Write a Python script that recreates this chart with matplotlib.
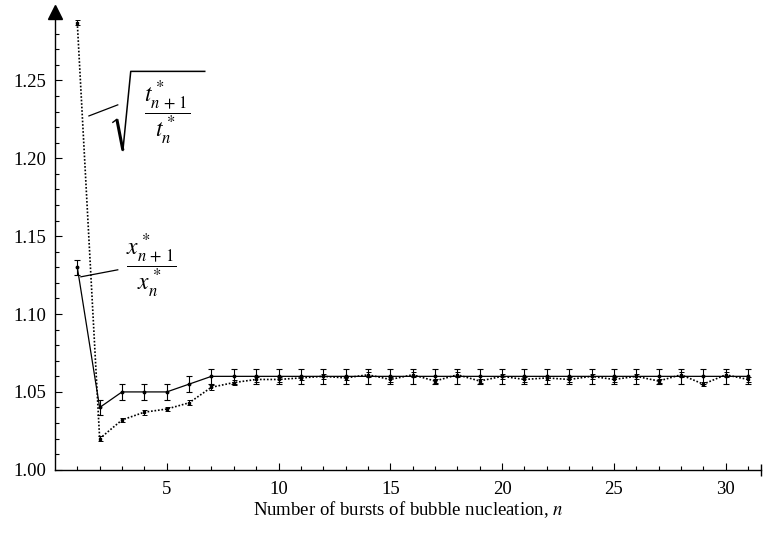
import numpy as np
import matplotlib
matplotlib.use("Agg")
import matplotlib.pyplot as plt

plt.rcParams['font.family'] = ['Liberation Serif', 'DejaVu Serif']
plt.rcParams['mathtext.fontset'] = 'stix'

# -------------------------------------------------------------
#                   DATA
# -------------------------------------------------------------
n = list(range(1, 32))

# x*_{n+1} / x*_n  (solid, with error bars)
x_ratio = [1.130, 1.040, 1.050, 1.050, 1.050, 1.055, 1.060, 1.060, 1.060, 1.060,
           1.060, 1.060, 1.060, 1.060, 1.060, 1.060, 1.060, 1.060, 1.060, 1.060,
           1.060, 1.060, 1.060, 1.060, 1.060, 1.060, 1.060, 1.060, 1.060, 1.060,
           1.060]
x_err = [0.005] * 31

# sqrt(t*_{n+1} / t*_n)  (dotted)
t_ratio = [1.287, 1.020, 1.032, 1.037, 1.039, 1.043, 1.053, 1.056, 1.058, 1.058,
           1.059, 1.060, 1.059, 1.061, 1.058, 1.061, 1.057, 1.061, 1.057, 1.060,
           1.058, 1.059, 1.058, 1.060, 1.058, 1.060, 1.057, 1.061, 1.055, 1.061,
           1.058]
t_err = [0.0015] * 31

x_ticks = [5, 10, 15, 20, 25, 30]
y_ticks = [1.00, 1.05, 1.10, 1.15, 1.20, 1.25]

# -------------------------------------------------------------
#                   FIGURE
# -------------------------------------------------------------
fig = plt.figure(figsize=(7.63, 5.40), dpi=100)
ax = fig.add_axes([0.072, 0.13, 0.926, 0.848])

ax.errorbar(n, x_ratio, yerr=x_err, color='black', lw=0.9, marker='o', ms=1.8,
            capsize=2.2, elinewidth=0.8, capthick=0.8)
ax.errorbar(n, t_ratio, yerr=t_err, color='black', lw=1.2, ls=(0, (1, 1.1)),
            marker='s', ms=2.0, capsize=1.8, elinewidth=0.7, capthick=0.7)

ax.set_xlim(0, 31.6)
ax.set_ylim(1.00, 1.294)
ax.set_xticks(x_ticks)
ax.set_xticks(range(1, 32), minor=True)
ax.set_yticks(y_ticks)
ax.set_yticks(np.arange(1.00, 1.29, 0.01), minor=True)
ax.set_yticklabels([f"{v:.2f}" for v in y_ticks])
ax.tick_params(which='both', direction='in', width=0.8, labelsize=13.5)
ax.tick_params(which='major', length=5)
ax.tick_params(which='minor', length=3)
ax.tick_params(axis='x', pad=8)
ax.tick_params(axis='y', pad=6)

for s in ('top', 'right'):
    ax.spines[s].set_visible(False)
for s in ('left', 'bottom'):
    ax.spines[s].set_linewidth(1.0)

# arrow on top of y axis
ax.plot(0, 1.294, marker='^', color='black', ms=10, clip_on=False)
# end bar on x axis
ax.plot(31.6, 1.00, marker='|', color='black', ms=8, clip_on=False)

ax.set_xlabel('Number of bursts of bubble nucleation, $n$', fontsize=13.5,
              labelpad=1)

# -------------------------------------------------------------
#                   ANNOTATIONS
# -------------------------------------------------------------
# radical sign drawn by hand, fraction as text
ax.plot([2.59, 2.77], [1.2231, 1.2250], color='black', lw=1.0, clip_on=False)
ax.plot([2.77, 3.04], [1.2250, 1.2051], color='black', lw=2.2,
        solid_capstyle='butt')
ax.plot([3.04, 3.39, 6.70], [1.2051, 1.2558, 1.2558], color='black', lw=1.1)
ax.text(5.0, 1.2295, r'$\dfrac{t^*_{n\,+\,1}}{t^*_n}$', fontsize=17,
        ha='center', va='center')
ax.plot([1.52, 2.81], [1.2272, 1.2343], color='black', lw=0.9)

ax.text(4.33, 1.1309, r'$\dfrac{x^*_{n\,+\,1}}{x^*_n}$', fontsize=17,
        ha='center', va='center')
ax.plot([1.16, 2.81], [1.1239, 1.1284], color='black', lw=0.9)

fig.savefig('out.png', dpi=100)
